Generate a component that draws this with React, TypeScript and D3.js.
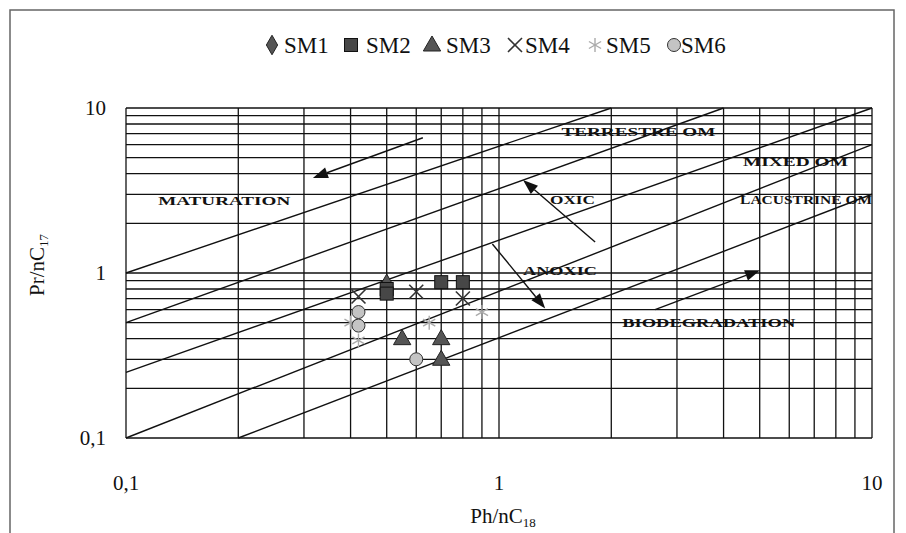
import React from "react";
import * as d3 from "d3";

const W = 906;
const H = 533;

// Series data: [Ph/nC18, Pr/nC17]
const sm1: [number, number][] = [[0.5, 0.86]];
const sm2: [number, number][] = [[0.5, 0.8], [0.5, 0.75], [0.7, 0.88], [0.8, 0.88]];
const sm3: [number, number][] = [[0.55, 0.4], [0.7, 0.4], [0.7, 0.3]];
const sm4: [number, number][] = [[0.42, 0.72], [0.6, 0.77], [0.8, 0.7]];
const sm5: [number, number][] = [[0.4, 0.5], [0.42, 0.39], [0.65, 0.5], [0.9, 0.58]];
const sm6: [number, number][] = [[0.42, 0.58], [0.42, 0.48], [0.6, 0.3]];

const seriesNames = ["SM1", "SM2", "SM3", "SM4", "SM5", "SM6"];

// Boundary lines (data coords)
const boundaries: [number, number][][] = [
  [[0.1, 1], [2, 10]],
  [[0.1, 0.5], [4, 10]],
  [[0.1, 0.25], [10, 10]],
  [[0.1, 0.1], [10, 6]],
  [[0.2, 0.1], [10, 3]],
];

// Arrows: [from, to]
const arrows: [number, number][][] = [
  [[0.625, 6.6], [0.317, 3.77]],
  [[1.81, 1.54], [1.16, 3.66]],
  [[0.96, 1.5], [1.33, 0.61]],
  [[2.62, 0.6], [5.01, 1.04]],
];

// Region labels: text, x, y (data coords of left baseline), width px
const labelTexts = ["MATURATION", "TERRESTRE  OM", "MIXED  OM", "LACUSTRINE OM", "OXIC", "ANOXIC", "BIODEGRADATION"];
const labelX = [0.122, 1.47, 4.51, 4.43, 1.37, 1.16, 2.14];
const labelY = [2.58, 6.76, 4.45, 2.62, 2.62, 0.97, 0.47];
const labelW = [132, 154, 105, 132, 45, 74, 173];

const xTickLabels = ["0,1", "1", "10"];
const tickValues = [0.1, 1, 10];

const minorTicks: number[] = [];
for (const dec of [0.1, 1]) for (let k = 1; k <= 9; k++) minorTicks.push(+(dec * k).toFixed(3));
minorTicks.push(10);

const FONT = "'Liberation Serif', 'Times New Roman', serif";

function Marker({ kind, x, y }: { kind: number; x: number; y: number }) {
  if (kind === 0) {
    const p = d3.symbol(d3.symbolDiamond, 110)()!;
    return <path d={p} transform={`translate(${x},${y})`} fill="#555" stroke="#222" strokeWidth={1} />;
  }
  if (kind === 1) {
    return <rect x={x - 6.5} y={y - 6.5} width={13} height={13} fill="#474747" stroke="#111" strokeWidth={1} />;
  }
  if (kind === 2) {
    const p = d3.symbol(d3.symbolTriangle, 130)()!;
    return <path d={p} transform={`translate(${x},${y + 1})`} fill="#555" stroke="#222" strokeWidth={1} />;
  }
  if (kind === 3) {
    const s = 7;
    return (
      <g stroke="#333" strokeWidth={1.6}>
        <line x1={x - s} y1={y - s} x2={x + s} y2={y + s} />
        <line x1={x - s} y1={y + s} x2={x + s} y2={y - s} />
      </g>
    );
  }
  if (kind === 4) {
    const s = 7;
    return (
      <g stroke="#aaa" strokeWidth={1.4}>
        <line x1={x} y1={y - s} x2={x} y2={y + s} />
        <line x1={x - s * 0.87} y1={y - s * 0.5} x2={x + s * 0.87} y2={y + s * 0.5} />
        <line x1={x - s * 0.87} y1={y + s * 0.5} x2={x + s * 0.87} y2={y - s * 0.5} />
      </g>
    );
  }
  return <circle cx={x} cy={y} r={6.5} fill="#c4c4c4" stroke="#333" strokeWidth={1} />;
}

export default function App() {
  const x = d3.scaleLog().domain([0.1, 10]).range([126, 872]);
  const y = d3.scaleLog().domain([0.1, 10]).range([438, 108]);
  const allSeries = [sm1, sm2, sm3, sm4, sm5, sm6];

  const legendSym = [272, 351, 432, 515, 595, 674];
  const legendTxt = [284, 366, 446, 525, 606, 681];

  return (
    <svg width={W} height={H} style={{ position: "absolute", left: 0, top: 0, background: "#fff" }}>
      <rect x={0} y={0} width={W} height={H} fill="#fff" />
      <rect x={10} y={10} width={884} height={560} fill="none" stroke="#666" strokeWidth={1.5} />

      {/* grid */}
      {minorTicks.map((v, i) => (
        <line key={"gx" + i} x1={x(v)} x2={x(v)} y1={y(0.1)} y2={y(10)} stroke="#111" strokeWidth={1.3} />
      ))}
      {minorTicks.map((v, i) => (
        <line key={"gy" + i} x1={x(0.1)} x2={x(10)} y1={y(v)} y2={y(v)} stroke="#111" strokeWidth={1.3} />
      ))}

      {/* boundary lines */}
      {boundaries.map((seg, i) => (
        <line key={"b" + i} x1={x(seg[0][0])} y1={y(seg[0][1])} x2={x(seg[1][0])} y2={y(seg[1][1])} stroke="#111" strokeWidth={1.4} />
      ))}

      {/* arrows */}
      {arrows.map((a, i) => {
        const x1 = x(a[0][0]), y1 = y(a[0][1]), x2 = x(a[1][0]), y2 = y(a[1][1]);
        const ang = Math.atan2(y2 - y1, x2 - x1);
        const L = 15, Wd = 5.5;
        const bx = x2 - L * Math.cos(ang), by = y2 - L * Math.sin(ang);
        const px = -Math.sin(ang) * Wd, py = Math.cos(ang) * Wd;
        return (
          <g key={"a" + i}>
            <line x1={x1} y1={y1} x2={bx} y2={by} stroke="#111" strokeWidth={1.4} />
            <path d={`M${x2},${y2}L${bx + px},${by + py}L${bx - px},${by - py}Z`} fill="#111" />
          </g>
        );
      })}

      {/* region labels */}
      {labelTexts.map((t, i) => (
        <text key={"l" + i} x={x(labelX[i])} y={y(labelY[i])} fontFamily={FONT} fontWeight="bold" fontSize={13}
          textLength={labelW[i]} lengthAdjust="spacingAndGlyphs" fill="#111">{t}</text>
      ))}

      {/* markers */}
      {allSeries.map((s, k) => s.map((d, j) => <Marker key={k + "-" + j} kind={k} x={x(d[0])} y={y(d[1])} />))}

      {/* axis tick labels */}
      {tickValues.map((v, i) => (
        <text key={"yt" + i} x={106} y={y(v) + 7} textAnchor="end" fontFamily={FONT} fontSize={21} fill="#111">{xTickLabels[i]}</text>
      ))}
      {tickValues.map((v, i) => (
        <text key={"xt" + i} x={x(v)} y={490} textAnchor="middle" fontFamily={FONT} fontSize={21} fill="#111">{xTickLabels[i]}</text>
      ))}

      {/* axis titles */}
      <text x={503} y={523} textAnchor="middle" fontFamily={FONT} fontSize={21} fill="#111">
        Ph/nC<tspan fontSize={13} dy={4}>18</tspan>
      </text>
      <text transform="translate(44,265) rotate(-90)" textAnchor="middle" fontFamily={FONT} fontSize={21} fill="#111">
        Pr/nC<tspan fontSize={13} dy={4}>17</tspan>
      </text>

      {/* legend */}
      {seriesNames.map((n, i) => (
        <g key={"lg" + i}>
          <Marker kind={i} x={legendSym[i]} y={45} />
          <text x={legendTxt[i]} y={53} fontFamily={FONT} fontSize={23} fill="#111">{n}</text>
        </g>
      ))}
    </svg>
  );
}
